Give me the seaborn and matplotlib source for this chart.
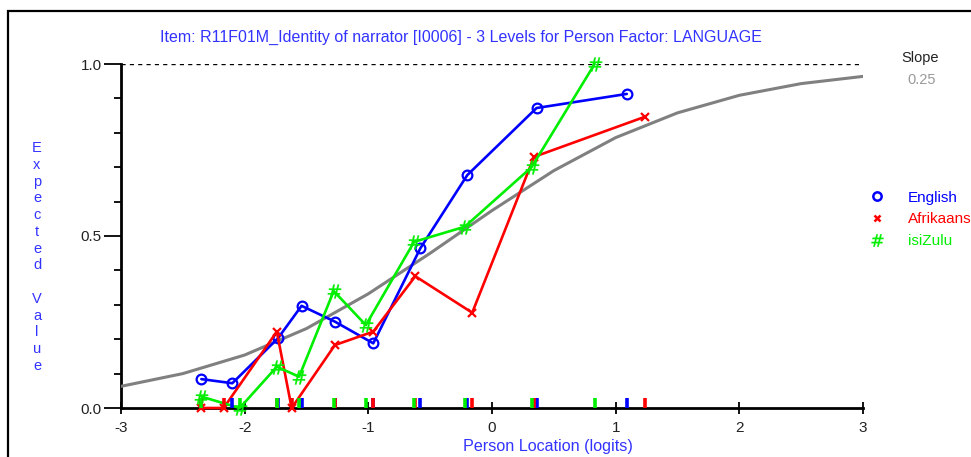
import numpy as np
import pandas as pd
import matplotlib
matplotlib.use("Agg")
import matplotlib.pyplot as plt
from matplotlib.lines import Line2D
from matplotlib.patches import Rectangle
import seaborn as sns

# Class-interval means per language group (person location in logits, observed mean score)
english_x = [-2.35, -2.10, -1.73, -1.54, -1.27, -0.96, -0.58, -0.20, 0.36, 1.09]
english_y = [0.084, 0.072, 0.203, 0.297, 0.251, 0.188, 0.464, 0.677, 0.872, 0.913]

afrikaans_x = [-2.35, -2.17, -1.74, -1.62, -1.27, -0.96, -0.62, -0.16, 0.34, 1.24]
afrikaans_y = [0.0, 0.0, 0.222, 0.0, 0.183, 0.222, 0.383, 0.277, 0.730, 0.847]

isizulu_x = [-2.35, -2.04, -1.74, -1.56, -1.28, -1.02, -0.63, -0.22, 0.32, 0.83]
isizulu_y = [0.033, 0.0, 0.120, 0.091, 0.340, 0.241, 0.483, 0.527, 0.700, 1.0]

# Expected value curve (item characteristic curve)
icc_x = [-3.0, -2.5, -2.0, -1.5, -1.0, -0.5, 0.0, 0.5, 1.0, 1.5, 2.0, 2.5, 3.0]
icc_y = [0.063, 0.100, 0.154, 0.231, 0.332, 0.450, 0.574, 0.690, 0.786, 0.858, 0.909, 0.943, 0.964]

groups = ["English", "Afrikaans", "isiZulu"]
slope_text = "0.25"
title = "Item: R11F01M_Identity of narrator [I0006] - 3 Levels for Person Factor: LANGUAGE"

sns.set_theme(style="white")
plt.rcParams["font.family"] = ["Liberation Sans", "DejaVu Sans"]

W, H = 971, 457
fig = plt.figure(figsize=(W / 100, H / 100), dpi=100)
ax = fig.add_axes([121 / W, 1 - 408 / H, (863 - 121) / W, (408 - 64) / H])


def px(x, y):
    # pixel coords -> figure fraction
    return x / W, 1 - y / H


# Frame round the plot window
fig.patches.append(Rectangle(px(8, 470), 2.0, (470 - 11) / H, transform=fig.transFigure,
                             fill=False, edgecolor="black", linewidth=1.6))

# Model curve
sns.lineplot(x=icc_x, y=icc_y, ax=ax, color="#808080", linewidth=2.2, zorder=2)

series = {
    "English": (english_x, english_y, "#0000ff", "o"),
    "Afrikaans": (afrikaans_x, afrikaans_y, "#ff0000", "x"),
    "isiZulu": (isizulu_x, isizulu_y, "#00ee00", r"$\#$"),
}
for name in groups:
    xs, ys, col, mk = series[name]
    df = pd.DataFrame({"x": xs, "y": ys})
    if mk == "o":
        kw = dict(marker="o", markersize=7, markerfacecolor="none",
                  markeredgecolor=col, markeredgewidth=1.6)
    elif mk == "x":
        kw = dict(marker="x", markersize=6, markeredgecolor=col, markeredgewidth=1.6)
    else:
        kw = dict(marker=mk, markersize=10, markeredgewidth=0.2,
                  markerfacecolor=col, markeredgecolor=col)
    sns.lineplot(data=df, x="x", y="y", ax=ax, color=col, linewidth=1.9,
                 clip_on=False, zorder=3, **kw)

# rug ticks on the x axis for each group
for name in groups:
    xs, ys, col, mk = series[name]
    sns.rugplot(x=xs, ax=ax, height=0.03, color=col, linewidth=2.6, clip_on=False, zorder=4)

# dashed line at 1.0
ax.plot([-3, 3], [1, 1], linestyle=(0, (3, 3)), color="black", linewidth=1.0, zorder=1)

ax.set_xlim(-3, 3)
ax.set_ylim(0, 1)
ax.set_xlabel("")
ax.set_ylabel("")
for s in ["top", "right"]:
    ax.spines[s].set_visible(False)
for s in ["left", "bottom"]:
    ax.spines[s].set_color("black")
    ax.spines[s].set_linewidth(2.0)
    ax.spines[s].set_zorder(0.5)

ax.set_xticks([-3, -2, -1, 0, 1, 2, 3])
ax.set_xticklabels(["-3", "-2", "-1", "0", "1", "2", "3"])
ax.set_yticks([0.0, 0.5, 1.0])
ax.set_yticklabels(["0.0", "0.5", "1.0"])
ax.set_yticks(np.arange(0.1, 1.0, 0.1), minor=True)
ax.tick_params(axis="x", which="major", direction="inout", length=9, width=1.3,
               color="black", labelsize=11, labelcolor="#222222", pad=5, bottom=True)
ax.tick_params(axis="y", which="major", direction="out", length=12, width=1.3,
               color="black", labelsize=11, labelcolor="#222222", pad=2, left=True)
ax.tick_params(axis="y", which="minor", direction="out", length=5, width=1.3,
               color="black", left=True)
ax.grid(False)

fig.text(*px(461, 37), title, color="#3333ff", fontsize=11.5, ha="center", va="center")
fig.text(*px(548, 446), "Person Location (logits)", color="#3333ff", fontsize=11.6,
         ha="center", va="center")
fig.text(*px(37, 257), "\n".join("Expected Value"),
         color="#3333ff", fontsize=10.5, ha="center", va="center", linespacing=1.25)

fig.text(*px(920, 58), "Slope", color="#222222", fontsize=10.5, ha="center", va="center")
fig.text(*px(922, 80), slope_text, color="#999999", fontsize=10.5, ha="center", va="center")

handles = [
    Line2D([], [], linestyle="none", marker="o", markersize=6, markerfacecolor="none",
           markeredgecolor="#0000ff", markeredgewidth=1.8),
    Line2D([], [], linestyle="none", marker="x", markersize=5, markeredgecolor="#ff0000",
           markeredgewidth=1.8),
    Line2D([], [], linestyle="none", marker=r"$\#$", markersize=9,
           markerfacecolor="#00ee00", markeredgecolor="#00ee00", markeredgewidth=0.2),
]
leg = fig.legend(handles, groups, loc="upper left", bbox_to_anchor=px(862, 183),
                 frameon=False, fontsize=11, handlelength=1.0, handletextpad=1.5,
                 labelspacing=0.5, borderpad=0)
for t, c in zip(leg.get_texts(), ["#0000ff", "#ff0000", "#00ee00"]):
    t.set_color(c)

fig.savefig("out.png", dpi=100)
